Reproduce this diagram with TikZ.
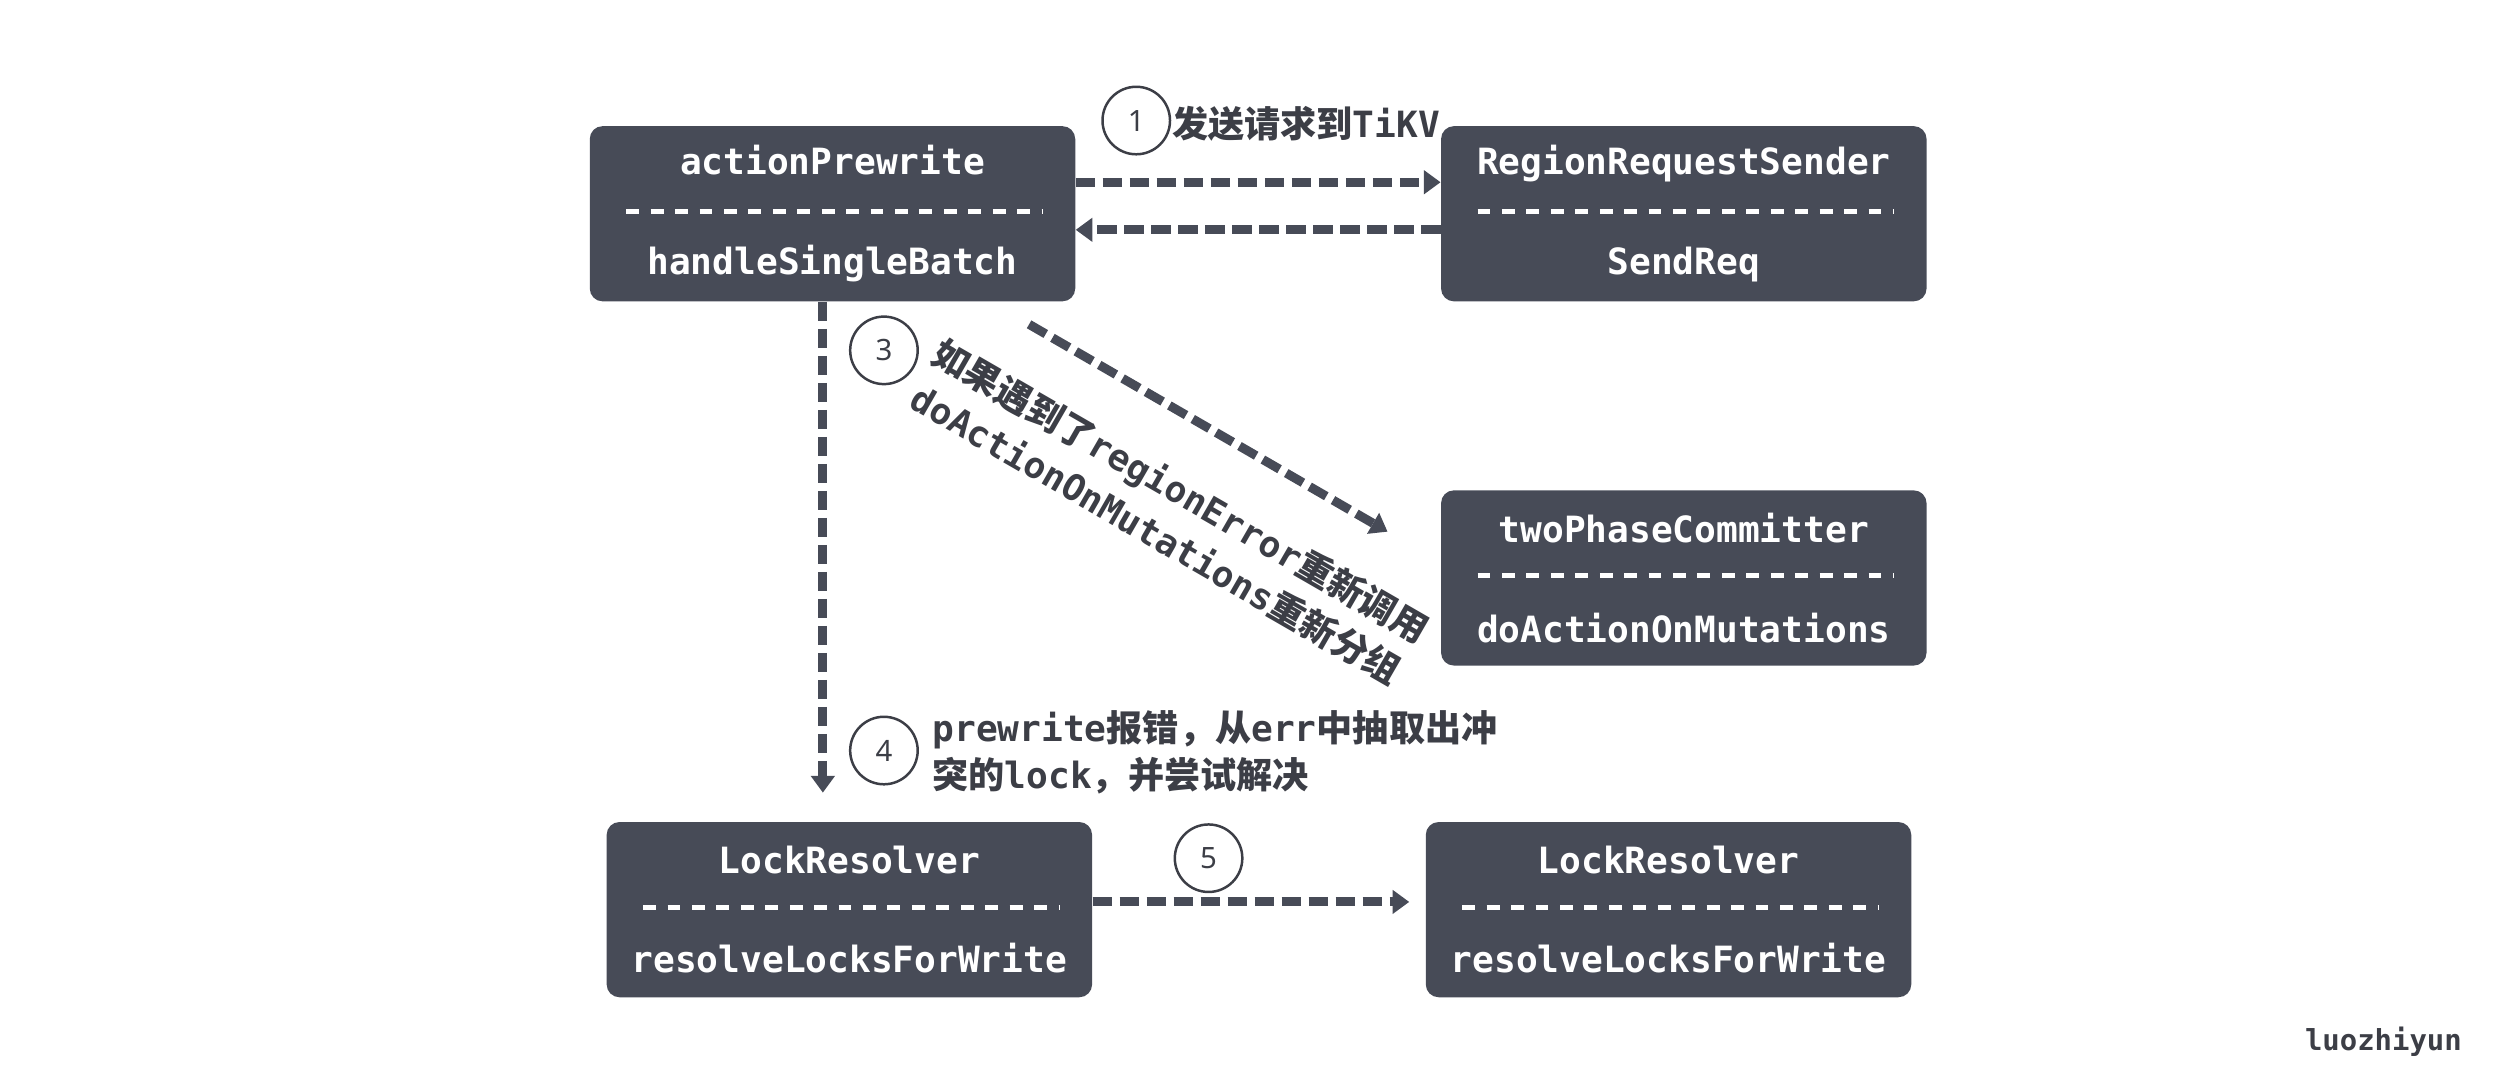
\documentclass[tikz,border=0pt]{standalone}
\usepackage{fontspec}
\setmainfont{DejaVu Sans Mono}
\newfontfamily\cjk{Noto Sans CJK SC}
\newfontfamily\numfont{Noto Sans}
\usetikzlibrary{positioning,calc,arrows.meta}
\definecolor{boxgray}{HTML}{474B57}
\definecolor{inkgray}{HTML}{3C3E46}

\begin{document}
\begin{tikzpicture}[x=0.025cm,y=-0.025cm,>={Triangle[length=0.26cm,width=0.36cm]},
	box/.style={shape=rectangle,fill=boxgray,rounded corners=0.2cm,minimum width=7.55cm,minimum height=2.725cm,inner sep=0pt,align=center,text=white,font=\fontsize{16}{20}\selectfont\bfseries},
	sep/.style={draw=white,line width=2.4pt,dash pattern=on 0.2cm off 0.18cm},
	flow/.style={->,draw=boxgray,line width=4pt,dash pattern=on 0.3cm off 0.12cm},
	num/.style={shape=circle,draw=inkgray,line width=1.1pt,minimum size=1.05cm,inner sep=0pt,text=inkgray,font=\numfont\fontsize{13}{15}\selectfont},
	note/.style={text=inkgray,inner sep=0pt,font=\fontsize{16}{21}\selectfont\bfseries},
	]
		\useasboundingbox (0,0) rectangle (1568,676);
		
		% create the nodes
		\node (prewrite) [box] at (518,133) {actionPrewrite\\[24pt]handleSingleBatch};
		\node (sender) [box, right =5.675cm of prewrite] {RegionRequestSender\\[24pt]SendReq};
		\node (committer) [box, below =2.925cm of sender] {twoPhaseCommitter\\[24pt]doActionOnMutations};
		\node (resolverA) [box] at (528.5,566) {LockResolver\\[24pt]resolveLocksForWrite};
		\node (resolverB) [box, right =5.175cm of resolverA] {LockResolver\\[24pt]resolveLocksForWrite};
		
		\foreach \n in {prewrite,sender,committer,resolverA,resolverB}
			\draw[sep] ($(\n.west)+(23,-1.5)$) -- ($(\n.east)+(-21,-1.5)$);
		
		\node (n1) [num] at (707,75) {1};
		\node (t1) [note, anchor=west] at (729,77) {{\cjk 发送请求到}TiKV};
		\node (n3) [num] at (550,218) {3};
		\node (t3) [note, align=center, rotate=-30, font=\fontsize{16}{22}\selectfont\bfseries] at (727,319) {{\cjk 如果遇到了}regionError{\cjk 重新调用}\\doActionOnMutations{\cjk 重新分组}};
		\node (n4) [num] at (550,467) {4};
		\node (t4) [note, align=left, anchor=west] at (580,468) {prewrite{\cjk 报错，从}err{\cjk 中抽取出冲}\\{\cjk 突的}lock{\cjk ，并尝试解决}};
		\node (n5) [num] at (752,534) {5};
		
		\node (mark) [note, font=\fontsize{12.8}{15}\selectfont\bfseries] at (1483,648) {luozhiyun};
		
		% connect the nodes
		\draw[flow] ([yshift=0.49cm]prewrite.east) -- ([yshift=0.49cm]prewrite.east -| sender.west);
		\draw[flow] ([yshift=-0.25cm]sender.west) -- ([yshift=-0.25cm]sender.west -| prewrite.east);
		\draw[flow, shorten >=0.45cm] ([xshift=-0.15cm]prewrite.south) -- ([xshift=-0.15cm]prewrite.south |- resolverA.north);
		\draw[flow] ([shift={(-0.725cm,-0.35cm)}]prewrite.south east) -- ([shift={(-0.825cm,-0.65cm)}]committer.north west);
		\draw[flow, shorten >=0.25cm] ([yshift=0.12cm]resolverA.east) -- ([yshift=0.12cm]resolverA.east -| resolverB.west);
		
	\end{tikzpicture}
\end{document}
